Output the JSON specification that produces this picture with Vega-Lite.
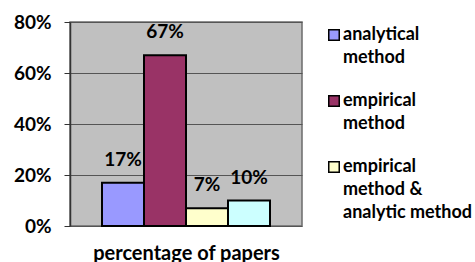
{
  "$schema": "https://vega.github.io/schema/vega-lite/v6.json",
  "width": 232,
  "height": 204,
  "autosize": {"type": "none"},
  "padding": {"left": 70, "top": 22, "right": 173, "bottom": 36},
  "background": "white",
  "config": {
    "view": {"fill": "#C0C0C0", "stroke": "#6b6b6b", "strokeWidth": 1.5},
    "font": "Lato"
  },
  "data": {
    "values": [
      {"series": "analytical method", "share": 0.17},
      {"series": "empirical method", "share": 0.67},
      {"series": "empirical method & analytic method", "share": 0.07},
      {"series": "other", "share": 0.10}
    ]
  },
  "encoding": {
    "x": {
      "field": "series",
      "type": "nominal",
      "sort": null,
      "scale": {"paddingInner": 0, "paddingOuter": 0.762},
      "axis": {
        "labels": false,
        "ticks": false,
        "domain": false,
        "title": "percentage of papers",
        "titleFont": "Lato",
        "titleFontSize": 20,
        "titleFontWeight": "bold",
        "titleColor": "black",
        "titlePadding": 17
      }
    },
    "y": {
      "field": "share",
      "type": "quantitative",
      "scale": {"domain": [0, 0.8]},
      "axis": {
        "format": ".0%",
        "values": [0, 0.2, 0.4, 0.6, 0.8],
        "title": null,
        "labelFont": "Lato",
        "labelFontSize": 19,
        "labelFontWeight": "bold",
        "labelColor": "black",
        "labelPadding": 13,
        "tickSize": 6,
        "tickColor": "#333333",
        "domainColor": "#333333",
        "domainWidth": 1.5,
        "gridColor": "#555555",
        "gridWidth": 1
      }
    }
  },
  "layer": [
    {
      "mark": {"type": "bar", "stroke": "black", "strokeWidth": 2},
      "encoding": {
        "color": {
          "field": "series",
          "type": "nominal",
          "sort": null,
          "scale": {
            "domain": ["analytical method", "empirical method", "empirical method & analytic method", "other"],
            "range": ["#9999FF", "#993366", "#FFFFCC", "#CCFFFF"]
          },
          "legend": {
            "orient": "none",
            "legendX": 255,
            "legendY": 4,
            "title": null,
            "padding": 0,
            "values": ["analytical method", "empirical method", "empirical method & analytic method"],
            "symbolType": "square",
            "symbolSize": 110,
            "symbolStrokeColor": "black",
            "symbolStrokeWidth": 1.5,
            "labelFont": "Lato",
            "labelFontSize": 18,
            "labelFontWeight": "bold",
            "labelColor": "black",
            "labelLimit": 300,
            "labelOffset": 0,
            "labelBaseline": "top",
            "rowPadding": 25,
            "labelExpr": "datum.label == 'analytical method' ? ['analytical', 'method'] : datum.label == 'empirical method' ? ['empirical', 'method'] : ['empirical', 'method &', 'analytic method']",
            "encode": {"labels": {"update": {"lineHeight": {"value": 23}, "dy": {"value": -9}}}}
          }
        }
      }
    },
    {
      "mark": {"type": "text", "dy": -17, "baseline": "alphabetic", "font": "Lato", "fontSize": 19, "fontWeight": "bold", "color": "black"},
      "encoding": {"text": {"field": "share", "format": ".0%"}}
    }
  ]
}
